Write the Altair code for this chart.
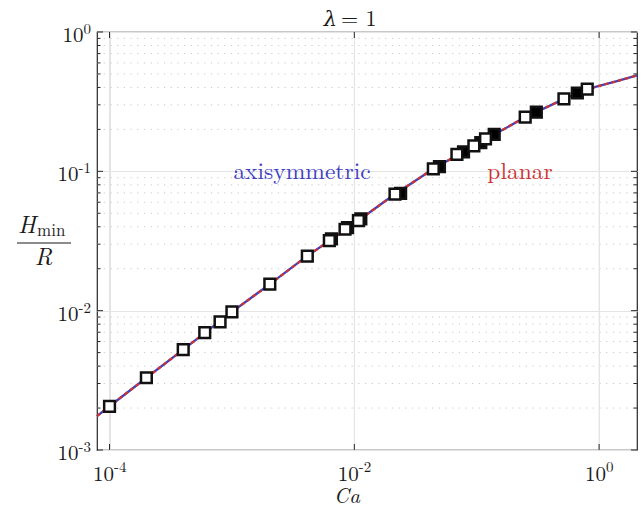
import altair as alt
import pandas as pd

# ---- data ----
curve_ca = [7.9e-5, 1e-4, 2e-4, 4e-4, 1e-3, 2e-3, 4e-3, 1e-2, 2e-2, 4.4e-2, 9.5e-2, 0.25, 0.52, 0.8, 1.0, 1.4, 2.04]
curve_h = [1.75e-3, 2.06e-3, 3.3e-3, 5.25e-3, 9.8e-3, 1.53e-2, 2.42e-2, 4.22e-2, 6.57e-2, 0.104, 0.1525, 0.245, 0.331, 0.389, 0.41, 0.444, 0.488]

axi_ca = [1e-4, 2e-4, 4e-4, 6e-4, 8e-4, 1e-3, 2.04e-3, 4.13e-3, 6.25e-3, 8.4e-3, 1.08e-2, 2.15e-2, 4.42e-2, 6.89e-2, 9.48e-2, 0.118, 0.249, 0.516, 0.80]
axi_h = [2.06e-3, 3.3e-3, 5.25e-3, 6.95e-3, 8.3e-3, 9.8e-3, 1.55e-2, 2.46e-2, 3.18e-2, 3.84e-2, 4.43e-2, 6.86e-2, 0.104, 0.1325, 0.1525, 0.171, 0.245, 0.331, 0.389]

pl_ca = [6.5e-3, 8.8e-3, 1.13e-2, 2.39e-2, 4.96e-2, 7.8e-2, 0.108, 0.139, 0.307, 0.664]
pl_h = [3.27e-2, 3.95e-2, 4.55e-2, 6.95e-2, 0.108, 0.138, 0.161, 0.1845, 0.266, 0.365]

x_major = [1e-4, 1e-2, 1.0]
x_exp = ["-4", "-2", "0"]
y_major = [1e-3, 1e-2, 1e-1, 1.0]
y_exp = ["-3", "-2", "-1", "0"]
y_minor = [m * d for d in [1e-3, 1e-2, 1e-1] for m in [2, 3, 4, 5, 6, 7, 8, 9]]

W, H = 540, 418
BLUE = "#4040bf"
RED = "#cc3333"
FONT = "Latin Modern Roman"
GFONT = "DejaVu Serif"
INK = "#1a1a1a"

curve = pd.DataFrame({"ca": curve_ca, "h": curve_h})
axi = pd.DataFrame({"ca": axi_ca, "h": axi_h})
pl = pd.DataFrame({"ca": pl_ca, "h": pl_h})
xmaj = pd.DataFrame({"v": x_major, "e": x_exp})
ymaj = pd.DataFrame({"v": y_major, "e": y_exp})
ymin = pd.DataFrame({"v": y_minor})
one = pd.DataFrame({"a": [0]})

xs = alt.Scale(type="log", domain=[7.9e-5, 2.04], nice=False)
ys = alt.Scale(type="log", domain=[1e-3, 1.0], nice=False)

xaxis = alt.Axis(values=x_major, labels=False, tickSize=0, domain=False, grid=True,
                 gridColor="#e4e4e4", gridWidth=1, title=None)
yaxis = alt.Axis(values=y_major, labels=False, tickSize=0, domain=False, grid=True,
                 gridColor="#e4e4e4", gridWidth=1, title=None)

minor_grid = alt.Chart(ymin).mark_rule(color="#c8c8c8", strokeWidth=1, strokeDash=[1.2, 5.5]).encode(
    y=alt.Y("v:Q", scale=ys, axis=yaxis), x=alt.value(0), x2=alt.value(W))

xgrid = alt.Chart(xmaj).mark_rule(color="#e4e4e4", strokeWidth=1).encode(
    x=alt.X("v:Q", scale=xs, axis=xaxis), y=alt.value(0), y2=alt.value(H))

blue_line = alt.Chart(curve).mark_line(color=BLUE, strokeWidth=2.3).encode(
    x=alt.X("ca:Q", scale=xs), y=alt.Y("h:Q", scale=ys))
red_line = alt.Chart(curve).mark_line(color=RED, strokeWidth=2.3, strokeDash=[4, 3]).encode(
    x=alt.X("ca:Q", scale=xs), y=alt.Y("h:Q", scale=ys))

pl_pts = alt.Chart(pl).mark_point(shape="square", size=115, filled=True, fill="black",
                                 stroke="#111111", strokeWidth=2.5, opacity=1).encode(
    x=alt.X("ca:Q", scale=xs), y=alt.Y("h:Q", scale=ys))
axi_pts = alt.Chart(axi).mark_point(shape="square", size=115, filled=True, fill="white",
                                   stroke="#111111", strokeWidth=2.5, opacity=1).encode(
    x=alt.X("ca:Q", scale=xs), y=alt.Y("h:Q", scale=ys))

TC = "#262626"
xt_bot = alt.Chart(xmaj).mark_rule(color=TC).encode(x=alt.X("v:Q", scale=xs), y=alt.value(H), y2=alt.value(H - 6))
xt_top = alt.Chart(xmaj).mark_rule(color=TC).encode(x=alt.X("v:Q", scale=xs), y=alt.value(0), y2=alt.value(6))
yt_l = alt.Chart(ymaj).mark_rule(color=TC).encode(y=alt.Y("v:Q", scale=ys), x=alt.value(0), x2=alt.value(6))
yt_r = alt.Chart(ymaj).mark_rule(color=TC).encode(y=alt.Y("v:Q", scale=ys), x=alt.value(W), x2=alt.value(W - 6))
ym_l = alt.Chart(ymin).mark_rule(color=TC).encode(y=alt.Y("v:Q", scale=ys), x=alt.value(0), x2=alt.value(3.5))
ym_r = alt.Chart(ymin).mark_rule(color=TC).encode(y=alt.Y("v:Q", scale=ys), x=alt.value(W), x2=alt.value(W - 3.5))

# ---- tick labels: "10" + superscript exponent ----
def ylabels(flt, base_x):
    src = alt.Chart(ymaj).transform_filter(flt)
    base = src.mark_text(font=FONT, fontSize=21, color=INK, align="right", baseline="alphabetic", dy=10).encode(
        y=alt.Y("v:Q", scale=ys), x=alt.value(base_x), text=alt.value("10"))
    sup = src.mark_text(font=FONT, fontSize=15, color=INK, align="right", baseline="alphabetic", dy=2).encode(
        y=alt.Y("v:Q", scale=ys), x=alt.value(-6), text="e:N")
    return [base, sup]

def xlabels(flt, dx):
    src = alt.Chart(xmaj).transform_filter(flt)
    base = src.mark_text(font=FONT, fontSize=21, color=INK, align="right", baseline="alphabetic", dx=dx).encode(
        x=alt.X("v:Q", scale=xs), y=alt.value(H + 31), text=alt.value("10"))
    sup = src.mark_text(font=FONT, fontSize=15, color=INK, align="left", baseline="alphabetic", dx=dx).encode(
        x=alt.X("v:Q", scale=xs), y=alt.value(H + 22), text="e:N")
    return [base, sup]

labels = (ylabels("datum.e == '0'", -13.5) + ylabels("datum.e != '0'", -18.5)
          + xlabels("datum.e == '0'", 7) + xlabels("datum.e != '0'", 4.5))

def txt(s, x, y, size=21, color=INK, style="normal", align="center", font=FONT):
    return alt.Chart(one).mark_text(font=font, fontSize=size, color=color, fontStyle=style,
                                    align=align, baseline="alphabetic").encode(
        x=alt.value(x), y=alt.value(y), text=alt.value(s))

texts = [
    txt("axisymmetric", 205, 147, size=23.5, color=BLUE),
    txt("planar", 423, 147, size=23.5, color=RED),
    txt("\u03bb", 240, -6, size=21, style="italic", align="right", font=GFONT),
    txt("= 1", 244, -6, size=22, align="left"),
    txt("Ca", 250, 471, size=21, style="italic"),
    txt("H", -79, 201, size=24, style="italic", align="left"),
    txt("min", -60, 204, size=17, align="left"),
    txt("R", -53.5, 233, size=24, style="italic"),
]
frac_bar = alt.Chart(one).mark_rule(color=INK, strokeWidth=1.2).encode(
    x=alt.value(-80), x2=alt.value(-26), y=alt.value(211))

chart = alt.layer(minor_grid, xgrid, blue_line, red_line, pl_pts, axi_pts,
                  xt_bot, xt_top, yt_l, yt_r, ym_l, ym_r, frac_bar, *labels, *texts).properties(
    width=W, height=H,
    background="white",
    autosize=alt.AutoSizeParams(type="none"),
    padding={"left": 97, "top": 32, "right": 7, "bottom": 59},
).configure_view(stroke="#262626", strokeWidth=1.2)

chart.save("out.html", embed_options={"renderer": "svg", "actions": False})
